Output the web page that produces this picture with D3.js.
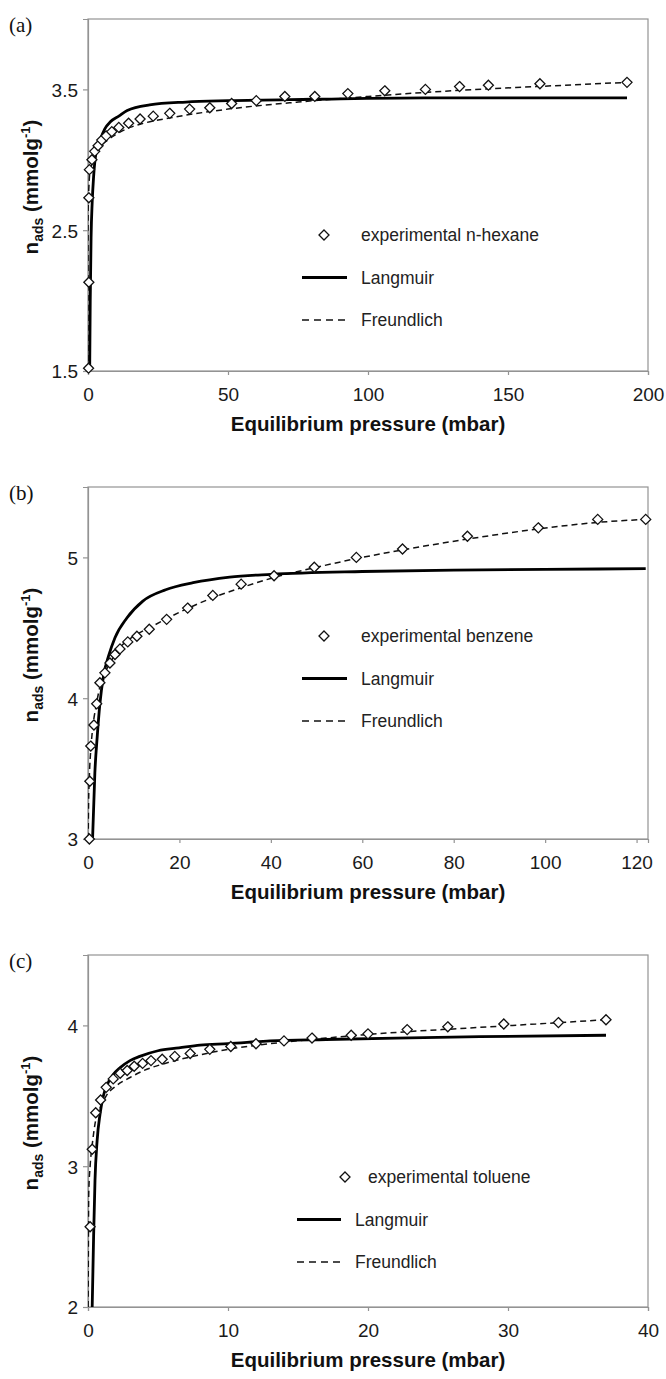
<!DOCTYPE html>
<html>
<head>
<meta charset="utf-8">
<script src="https://cdn.jsdelivr.net/npm/d3@7"></script>
<style>
  html, body { margin: 0; padding: 0; background: #fff; }
  svg { display: block; }
</style>
</head>
<body>
<svg id="chart" width="666" height="1379"></svg>
<script>
// ---------------- DATA ----------------
// (a) n-hexane
const hexaneP = [0.2, 0.3, 0.3, 0.5, 1.4, 2.4, 3.6, 4.9, 6.5, 8.5, 11, 14.5, 18.6, 23.3, 29.2, 36.3, 43.5, 51.3, 60.1, 70.3, 81, 92.8, 106, 120.5, 132.7, 143, 161.4, 192.5];
const hexaneN = [1.52, 2.13, 2.73, 2.93, 3.00, 3.06, 3.10, 3.14, 3.17, 3.20, 3.23, 3.26, 3.29, 3.31, 3.33, 3.36, 3.37, 3.40, 3.42, 3.45, 3.45, 3.47, 3.49, 3.50, 3.52, 3.53, 3.54, 3.55];
const hexaneLangP = [0.6, 0.8, 1.1, 1.5, 2.0, 2.5, 3.3, 4.3, 6, 8, 11, 14, 22, 35, 50, 80, 120, 160, 192.5];
const hexaneLangN = [1.5, 2.0, 2.45, 2.7, 2.88, 3.0, 3.08, 3.14, 3.22, 3.27, 3.31, 3.35, 3.39, 3.41, 3.42, 3.43, 3.44, 3.44, 3.44];
const hexaneFreuP = [0.0, 0.01, 0.1, 0.3, 0.6, 1, 2, 4, 7, 10, 15, 20, 30, 50, 75, 100, 130, 160, 192.5];
const hexaneFreuN = [1.5, 2.5, 2.7, 2.8, 2.9, 2.94, 3.0, 3.08, 3.14, 3.18, 3.23, 3.26, 3.30, 3.36, 3.41, 3.45, 3.49, 3.52, 3.55];
const hexaneXTicks = [0, 50, 100, 150, 200];
const hexaneYTicks = [1.5, 2.5, 3.5];
const hexaneXDomain = [0, 200];
const hexaneYDomain = [1.5, 4];

// (b) benzene
const benzeneP = [0.3, 0.4, 0.6, 1.3, 1.9, 2.6, 3.7, 4.8, 5.9, 7.0, 8.7, 10.7, 13.4, 17.2, 21.8, 27.3, 33.5, 40.7, 49.5, 58.7, 68.8, 83, 98.5, 111.5, 122];
const benzeneN = [3.0, 3.41, 3.66, 3.81, 3.96, 4.11, 4.18, 4.25, 4.31, 4.35, 4.40, 4.44, 4.49, 4.56, 4.64, 4.73, 4.81, 4.87, 4.93, 5.00, 5.06, 5.15, 5.21, 5.27, 5.27];
const benzeneLangP = [1.0, 1.5, 2.0, 2.6, 3.4, 4.5, 5.9, 8.5, 12, 17, 23, 31, 40, 60, 80, 100, 122];
const benzeneLangN = [3.0, 3.47, 3.72, 3.96, 4.16, 4.30, 4.43, 4.57, 4.69, 4.77, 4.82, 4.86, 4.88, 4.90, 4.91, 4.915, 4.92];
const benzeneFreuP = [0.05, 0.1, 0.3, 0.6, 1, 1.8, 2.6, 3.7, 5, 7, 10, 14, 20, 27, 34, 41, 50, 60, 70, 83, 98, 112, 122];
const benzeneFreuN = [3.0, 3.2, 3.45, 3.63, 3.78, 3.95, 4.08, 4.18, 4.26, 4.36, 4.44, 4.51, 4.61, 4.71, 4.79, 4.86, 4.93, 5.00, 5.06, 5.13, 5.20, 5.25, 5.27];
const benzeneXTicks = [0, 20, 40, 60, 80, 100, 120];
const benzeneYTicks = [3, 4, 5];
const benzeneXDomain = [0, 122.5];
const benzeneYDomain = [3, 5.5];

// (c) toluene
const tolueneP = [0.15, 0.3, 0.55, 0.9, 1.3, 1.8, 2.3, 2.8, 3.3, 3.9, 4.5, 5.3, 6.2, 7.3, 8.7, 10.2, 12, 14, 16, 18.8, 20, 22.8, 25.7, 29.7, 33.6, 37];
const tolueneN = [2.57, 3.12, 3.38, 3.47, 3.56, 3.62, 3.66, 3.68, 3.71, 3.73, 3.75, 3.76, 3.78, 3.80, 3.83, 3.85, 3.87, 3.89, 3.91, 3.93, 3.94, 3.97, 3.99, 4.01, 4.02, 4.04];
const tolueneLangP = [0.3, 0.4, 0.5, 0.65, 0.86, 1.1, 1.33, 1.8, 2.3, 3, 3.7, 5, 6.5, 8, 10, 13, 17, 22, 28, 37];
const tolueneLangN = [2.0, 2.5, 2.9, 3.18, 3.37, 3.5, 3.57, 3.65, 3.70, 3.75, 3.78, 3.82, 3.84, 3.86, 3.87, 3.89, 3.90, 3.91, 3.92, 3.93];
const tolueneFreuP = [0.01, 0.05, 0.15, 0.3, 0.5, 0.9, 1.3, 2, 3, 4, 5.5, 7.5, 10, 13, 17, 22, 27, 32, 37];
const tolueneFreuN = [2.0, 2.8, 3.0, 3.15, 3.3, 3.42, 3.5, 3.57, 3.63, 3.68, 3.73, 3.78, 3.83, 3.87, 3.91, 3.95, 3.98, 4.01, 4.04];
const tolueneXTicks = [0, 10, 20, 30, 40];
const tolueneYTicks = [2, 3, 4];
const tolueneXDomain = [0, 40];
const tolueneYDomain = [2, 4.5];

const panelLabels = ["(a)", "(b)", "(c)"];
const expLabels = ["experimental n-hexane", "experimental benzene", "experimental toluene"];
const modelLabels = ["Langmuir", "Freundlich"];
const xTitle = "Equilibrium pressure (mbar)";

// ---------------- LAYOUT ----------------
const zip = (a, b) => a.map((v, i) => [v, b[i]]);
const panels = [
  { label: panelLabels[0], exp: expLabels[0], pts: zip(hexaneP, hexaneN), lang: zip(hexaneLangP, hexaneLangN), freu: zip(hexaneFreuP, hexaneFreuN),
    xt: hexaneXTicks, yt: hexaneYTicks, xd: hexaneXDomain, yd: hexaneYDomain,
    top: 19, leg: { y: 235, mx: 324, lx0: 302, lx1: 347, tx: 361, tx0: 361 } },
  { label: panelLabels[1], exp: expLabels[1], pts: zip(benzeneP, benzeneN), lang: zip(benzeneLangP, benzeneLangN), freu: zip(benzeneFreuP, benzeneFreuN),
    xt: benzeneXTicks, yt: benzeneYTicks, xd: benzeneXDomain, yd: benzeneYDomain,
    top: 487, leg: { y: 636, mx: 324, lx0: 302, lx1: 347, tx: 361, tx0: 361 } },
  { label: panelLabels[2], exp: expLabels[2], pts: zip(tolueneP, tolueneN), lang: zip(tolueneLangP, tolueneLangN), freu: zip(tolueneFreuP, tolueneFreuN),
    xt: tolueneXTicks, yt: tolueneYTicks, xd: tolueneXDomain, yd: tolueneYDomain,
    top: 955, leg: { y: 1177, mx: 345, lx0: 297, lx1: 341, tx: 355, tx0: 368 } }
];

const svg = d3.select("#chart");
const left = 88, right = 648, plotH = 352;
const frameColor = "#939393";
const sans = "'Liberation Sans', Arial, sans-serif";
const serif = "'Liberation Serif', 'Times New Roman', serif";
const diamond = d3.symbol().type(d3.symbolDiamond2).size(64);

panels.forEach((p, i) => {
  const top = p.top, bottom = top + plotH;
  const x = d3.scaleLinear().domain(p.xd).range([left, right]);
  const y = d3.scaleLinear().domain(p.yd).range([bottom, top]);
  const g = svg.append("g");

  const clipId = "clip" + i;
  svg.append("clipPath").attr("id", clipId)
    .append("rect").attr("x", left).attr("y", top).attr("width", right - left).attr("height", plotH);

  g.append("rect").attr("x", left).attr("y", top).attr("width", right - left).attr("height", plotH)
    .attr("fill", "none").attr("stroke", frameColor).attr("stroke-width", 1.2);

  const xAxis = d3.axisBottom(x).tickValues(p.xt).tickSize(4).tickFormat(d3.format("d"));
  const yAxis = d3.axisLeft(y).tickValues(p.yt).tickSize(5).tickFormat(d => String(d));
  const gx = g.append("g").attr("transform", `translate(0,${bottom})`).call(xAxis);
  const gy = g.append("g").attr("transform", `translate(${left},0)`).call(yAxis);
  [gx, gy].forEach(ax => {
    ax.select(".domain").attr("stroke", frameColor).attr("stroke-width", 1.2);
    ax.selectAll(".tick line").attr("stroke", frameColor).attr("stroke-width", 1.2);
    ax.selectAll(".tick text").attr("fill", "#1a1a1a").style("font-family", sans).style("font-size", "19px");
  });
  gx.selectAll(".tick text").attr("dy", null).attr("y", 30);
  gy.selectAll(".tick text").attr("x", -10).attr("dy", "0.36em");

  g.append("text").attr("x", 9).attr("y", top + 13).text(p.label)
    .style("font-family", serif).style("font-size", "21px").attr("fill", "#111");

  const yt = g.append("text")
    .attr("transform", `translate(38,${top + plotH / 2 - 8}) rotate(-90)`)
    .attr("text-anchor", "middle")
    .style("font-family", sans).style("font-size", "20.5px").style("font-weight", "bold").attr("fill", "#111");
  yt.append("tspan").text("n");
  yt.append("tspan").text("ads").attr("dy", 5).style("font-size", "14px");
  yt.append("tspan").text(" (mmolg").attr("dy", -5);
  yt.append("tspan").text("-1").attr("dy", -8).style("font-size", "13px");
  yt.append("tspan").text(")").attr("dy", 8);

  g.append("text").attr("x", (left + right) / 2).attr("y", bottom + 60).attr("text-anchor", "middle")
    .text(xTitle)
    .style("font-family", sans).style("font-size", "20.5px").style("font-weight", "bold").attr("fill", "#111");

  const line = d3.line().x(d => x(d[0])).y(d => y(d[1])).curve(d3.curveMonotoneX);
  const cg = g.append("g").attr("clip-path", `url(#${clipId})`);
  cg.append("path").datum(p.freu).attr("d", line).attr("fill", "none")
    .attr("stroke", "#111").attr("stroke-width", 1.5).attr("stroke-dasharray", "6,4");
  cg.append("path").datum(p.lang).attr("d", line).attr("fill", "none")
    .attr("stroke", "#000").attr("stroke-width", 2.8);

  g.append("g").selectAll("path").data(p.pts).join("path")
    .attr("d", diamond)
    .attr("transform", d => `translate(${x(d[0])},${y(d[1])})`)
    .attr("fill", "#fff").attr("stroke", "#111").attr("stroke-width", 1.3);

  const L = p.leg, gap = 42.5;
  const lg = g.append("g").style("font-family", sans).style("font-size", "17.5px").attr("fill", "#222");
  lg.append("path").attr("d", diamond).attr("transform", `translate(${L.mx},${L.y})`)
    .attr("fill", "#fff").attr("stroke", "#111").attr("stroke-width", 1.3);
  lg.append("text").attr("x", L.tx0).attr("y", L.y).attr("dy", "0.35em").text(p.exp);
  lg.append("line").attr("x1", L.lx0).attr("x2", L.lx1).attr("y1", L.y + gap).attr("y2", L.y + gap)
    .attr("stroke", "#000").attr("stroke-width", 2.8);
  lg.append("text").attr("x", L.tx).attr("y", L.y + gap).attr("dy", "0.35em").text(modelLabels[0]);
  lg.append("line").attr("x1", L.lx0).attr("x2", L.lx1).attr("y1", L.y + 2 * gap).attr("y2", L.y + 2 * gap)
    .attr("stroke", "#111").attr("stroke-width", 1.5).attr("stroke-dasharray", "7,5");
  lg.append("text").attr("x", L.tx).attr("y", L.y + 2 * gap).attr("dy", "0.35em").text(modelLabels[1]);
});
</script>
</body>
</html>
